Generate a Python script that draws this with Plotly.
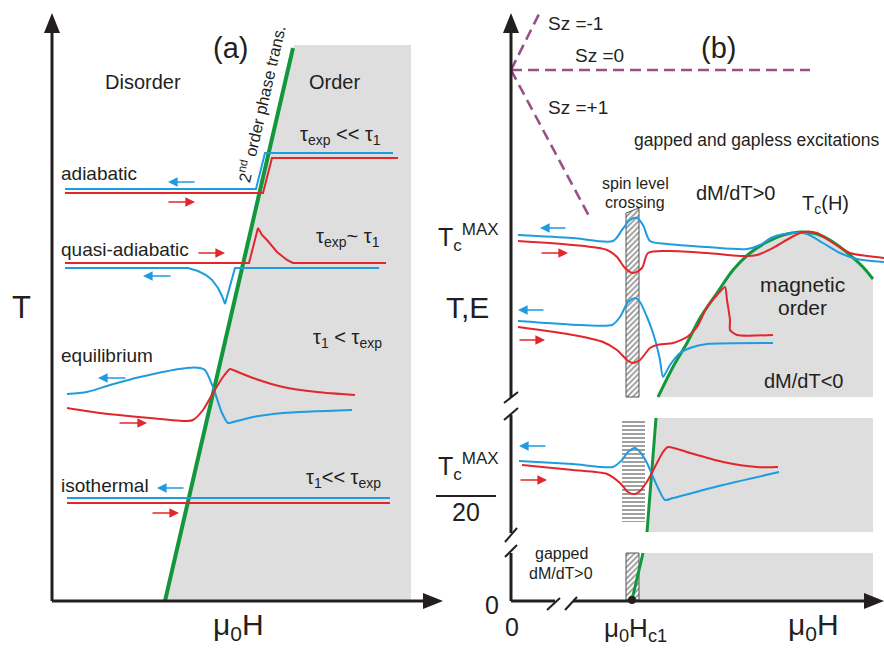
import plotly.graph_objects as go

# ---------------------------------------------------------------
# Panel (a): generic H-T diagram with a 2nd order phase boundary.
# Coordinates: H (field, arbitrary units) and T (arbitrary units).
# ---------------------------------------------------------------
A_BOUNDARY_H = [113, 241]
A_BOUNDARY_T = [0, 553]
A_ORDER_H = [113, 242, 359, 359]
A_ORDER_T = [0, 556, 556, 0]

ADIA_BLUE_H = [13, 204, 213, 341]
ADIA_BLUE_T = [412, 412, 448, 448]
ADIA_RED_H = [13, 211, 220, 346]
ADIA_RED_T = [408, 408, 443, 443]

QADIA_RED_H = [13, 197, 206, 210, 215, 220, 225, 230, 235, 241, 334]
QADIA_RED_T = [338, 338, 373, 366, 361, 355, 349, 345, 341, 338, 338]
QADIA_BLUE_H = [13, 136, 146, 154, 160, 166, 170, 173, 183, 327]
QADIA_BLUE_T = [333, 333, 330, 326, 321, 313, 305, 297, 333, 333]

EQ_BLUE_H = [15, 35, 58, 88, 135, 148, 153, 161, 170, 176, 181, 201, 231, 300]
EQ_BLUE_T = [207, 209, 216, 224, 233, 233, 231, 214, 188, 178, 179, 184, 188, 191]
EQ_RED_H = [15, 48, 98, 135, 141, 151, 161, 171, 178, 181, 201, 231, 265, 303]
EQ_RED_T = [193, 188, 183, 180, 181, 191, 208, 224, 232, 231, 223, 214, 209, 206]

ISO_BLUE_H = [15, 338]
ISO_BLUE_T = [103, 103]
ISO_RED_H = [15, 338]
ISO_RED_T = [98, 98]

# sweep-direction arrows: (tail H, head H, T, colour key)
A_ARROWS = [
    (144, 116, 419, "blue"), (115, 143, 399, "red"),
    (145, 173, 348, "red"), (120, 91, 325, "blue"),
    (75, 46, 223, "blue"), (66, 95, 178, "red"),
    (133, 105, 113, "blue"), (99, 127, 88, "red"),
]

# ---------------------------------------------------------------
# Panel (b): spin-gap system, broken T axis.
# ---------------------------------------------------------------
B_TC_H = [147, 162, 176, 189, 206, 222, 239, 256, 272, 289, 306, 322, 339, 352, 362]
B_TC_T = [204, 234, 258, 283, 308, 331, 348, 359, 366, 369, 367, 359, 346, 334, 322]
B_ORDER_RIGHT_H = 362
B_ORDER_FLOOR_T = 204

B_MID_BOUNDARY_H = [136, 145]
B_MID_BOUNDARY_T = [69, 183]
B_LOW_BOUNDARY_H = [121, 132]
B_LOW_BOUNDARY_T = [1, 48]

HATCH_TOP_H = [115, 128, 128, 115]
HATCH_TOP_T = [388, 393, 204, 204]
HATCH_MID_H = [111, 134, 134, 111]
HATCH_MID_T = [181, 181, 79, 79]
HATCH_LOW_H = [115, 128, 128, 115]
HATCH_LOW_T = [48, 48, 1, 1]

SZ_M1_H, SZ_M1_T = [0, 29], [531, 589]
SZ_0_H, SZ_0_T = [0, 299], [531, 531]
SZ_P1_H, SZ_P1_T = [0, 79], [531, 383]

TOP_BLUE_H = [7, 62, 102, 111, 119, 126, 132, 139, 156, 196, 236, 249, 262, 282, 296, 312, 329, 346, 373]
TOP_BLUE_T = [366, 363, 360, 371, 381, 383, 376, 360, 357, 354, 352, 356, 364, 368, 367, 358, 348, 342, 339]
TOP_RED_H = [7, 62, 96, 106, 114, 122, 131, 137, 156, 196, 229, 246, 262, 279, 292, 306, 322, 339, 356, 373]
TOP_RED_T = [360, 356, 351, 344, 333, 328, 333, 348, 350, 348, 345, 346, 353, 363, 369, 368, 358, 348, 345, 343]

MID_BLUE_H = [7, 69, 101, 109, 117, 124, 129, 136, 141, 145, 149, 152, 159, 169, 179, 196, 262]
MID_BLUE_T = [280, 276, 276, 284, 299, 303, 299, 284, 271, 258, 241, 224, 236, 248, 253, 257, 258]
MID_RED_H = [7, 62, 92, 106, 116, 122, 129, 139, 146, 162, 176, 186, 196, 206, 214, 216, 219, 219, 226, 262]
MID_RED_T = [274, 266, 259, 251, 241, 238, 241, 253, 256, 258, 264, 274, 294, 306, 314, 301, 281, 271, 266, 266]

LOW_BLUE_H = [8, 62, 102, 111, 117, 124, 129, 136, 142, 149, 154, 162, 212, 268]
LOW_BLUE_T = [140, 137, 134, 141, 149, 153, 149, 138, 124, 109, 101, 103, 116, 129]
LOW_RED_H = [11, 62, 96, 109, 117, 124, 129, 137, 146, 152, 157, 179, 212, 246, 267]
LOW_RED_T = [136, 131, 127, 118, 109, 107, 110, 121, 138, 149, 154, 148, 139, 134, 134]

B_ARROWS = [
    (56, 29, 373, "blue"), (29, 57, 348, "red"),
    (34, 7, 291, "blue"), (7, 34, 261, "red"),
    (36, 8, 155, "blue"), (8, 36, 121, "red"),
]

# axes: T-axis segments (broken) and H-axis segments
A_T_TIP, A_H_TIP = 588, 391
B_T_SEGMENTS = [(204, 588), (68, 186), (0, 48)]
B_H_SEGMENTS = [(0, 44), (62, 373)]
B_BREAKS = [((-7, 198), (7, 209)), ((-7, 181), (7, 193)),
            ((-6, 59), (6, 73)), ((-6, 44), (6, 56)),
            ((36, -9), (49, 3)), ((54, -9), (66, 4))]
HC1 = (121, 1)

FONT = "Liberation Sans, Arial, sans-serif"
INK = "#231f20"
COLORS = {"blue": "#1f9be0", "red": "#e2262b"}
GREEN = "#12973c"
GRAY = "#dedede"
PURPLE = "#9a4f86"

fig = go.Figure()


def axes(panel):
    return ("x", "y") if panel == "a" else ("x2", "y2")


def curve(panel, h, t, color, width=2.0, shape="linear", dash=None, smoothing=0.8):
    xa, ya = axes(panel)
    ln = dict(color=color, width=width, shape=shape, dash=dash)
    if shape == "spline":
        ln["smoothing"] = smoothing
    fig.add_trace(go.Scatter(x=h, y=t, mode="lines", xaxis=xa, yaxis=ya, line=ln,
                             hoverinfo="skip", showlegend=False))


def region(panel, h, t, color):
    xa, ya = axes(panel)
    fig.add_trace(go.Scatter(x=h, y=t, mode="lines", fill="toself", fillcolor=color,
                             line=dict(width=0, color=color), xaxis=xa, yaxis=ya,
                             hoverinfo="skip", showlegend=False))


def hatch(panel, h, t, shape, border=True):
    xa, ya = axes(panel)
    fig.add_trace(go.Scatter(x=h + h[:1], y=t + t[:1], mode="lines", fill="toself",
                             fillcolor="white",
                             fillpattern=dict(shape=shape, fgcolor="#2a2a2a", bgcolor="white",
                                              size=4, solidity=0.45),
                             line=dict(width=1 if border else 0, color="#555555"),
                             xaxis=xa, yaxis=ya, hoverinfo="skip", showlegend=False))


def label(panel, h, t, s, size, anchor="center", angle=0):
    xa, ya = axes(panel)
    fig.add_annotation(x=h, y=t, xref=xa, yref=ya, text=s, showarrow=False,
                       font=dict(family=FONT, size=size, color=INK),
                       xanchor=anchor, yanchor="middle", textangle=angle)


def sweep(panel, tail, head, t, key):
    xa, ya = axes(panel)
    fig.add_annotation(x=head, y=t, ax=tail, ay=t, xref=xa, yref=ya, axref=xa, ayref=ya,
                       text="", showarrow=True, arrowhead=2, arrowsize=1.2,
                       arrowwidth=1.6, arrowcolor=COLORS[key], standoff=0)


def arrow_head(panel, tip, direction, length=20, half=8):
    x0, y0 = tip
    if direction == "up":
        xs, ys = [x0 - half, x0, x0 + half, x0 - half], [y0 - length, y0, y0 - length, y0 - length]
    else:
        xs, ys = [x0 - length, x0, x0 - length, x0 - length], [y0 - half, y0, y0 + half, y0 - half]
    region(panel, xs, ys, INK)


SMALL = "<span style='font-size:17px'>{}</span>"
TC_MAX = "T<sub>" + SMALL.format("c") + "</sub><sup>" + SMALL.format("MAX") + "</sup>"

# ---------------- panel (a) ----------------
region("a", A_ORDER_H, A_ORDER_T, GRAY)
curve("a", A_BOUNDARY_H, A_BOUNDARY_T, GREEN, width=4)

curve("a", ADIA_BLUE_H, ADIA_BLUE_T, COLORS["blue"])
curve("a", ADIA_RED_H, ADIA_RED_T, COLORS["red"])
curve("a", QADIA_RED_H, QADIA_RED_T, COLORS["red"])
curve("a", QADIA_BLUE_H, QADIA_BLUE_T, COLORS["blue"])
curve("a", EQ_BLUE_H, EQ_BLUE_T, COLORS["blue"], shape="spline", smoothing=0.7)
curve("a", EQ_RED_H, EQ_RED_T, COLORS["red"], shape="spline", smoothing=0.7)
curve("a", ISO_BLUE_H, ISO_BLUE_T, COLORS["blue"])
curve("a", ISO_RED_H, ISO_RED_T, COLORS["red"])
for tail, head, t, key in A_ARROWS:
    sweep("a", tail, head, t, key)

curve("a", [0, 0], [0, A_T_TIP - 18], INK, width=3)
curve("a", [0, A_H_TIP - 18], [0, 0], INK, width=3)
arrow_head("a", (0, A_T_TIP), "up")
arrow_head("a", (A_H_TIP, 0), "right")

label("a", 178, 553, "(a)", 29)
label("a", 91, 519, "Disorder", 20)
label("a", 282, 519, "Order", 20)
label("a", 209, 497, "2<sup>nd</sup> order phase trans.", 16.5, angle=-77)
label("a", 7, 428, "adiabatic", 19, anchor="left")
label("a", 7, 352, "quasi-adiabatic", 19, anchor="left")
label("a", 7, 246, "equilibrium", 19, anchor="left")
label("a", 7, 116, "isothermal", 19, anchor="left")
label("a", 288, 466, "τ<sub>exp</sub> << τ<sub>1</sub>", 20)
label("a", 296, 364, "τ<sub>exp</sub>~ τ<sub>1</sub>", 20)
label("a", 295, 263, "τ<sub>1</sub> < τ<sub>exp</sub>", 20)
label("a", 291, 123, "τ<sub>1</sub><< τ<sub>exp</sub>", 20)
label("a", -31, 294, "T", 31)
label("a", 186, -25, "μ<sub>0</sub>H", 30)

# ---------------- panel (b) ----------------
region("b", B_TC_H + [B_ORDER_RIGHT_H, B_TC_H[0]],
       B_TC_T + [B_ORDER_FLOOR_T, B_ORDER_FLOOR_T], GRAY)
region("b", B_MID_BOUNDARY_H + [B_ORDER_RIGHT_H, B_ORDER_RIGHT_H],
       B_MID_BOUNDARY_T + [B_MID_BOUNDARY_T[1], B_MID_BOUNDARY_T[0]], GRAY)
region("b", B_LOW_BOUNDARY_H + [B_ORDER_RIGHT_H, B_ORDER_RIGHT_H],
       B_LOW_BOUNDARY_T + [B_LOW_BOUNDARY_T[1], B_LOW_BOUNDARY_T[0]], GRAY)

hatch("b", HATCH_TOP_H, HATCH_TOP_T, "/")
hatch("b", HATCH_MID_H, HATCH_MID_T, "-", border=False)
hatch("b", HATCH_LOW_H, HATCH_LOW_T, "/")

curve("b", B_TC_H, B_TC_T, GREEN, width=3, shape="spline")
curve("b", B_MID_BOUNDARY_H, B_MID_BOUNDARY_T, GREEN, width=3)
curve("b", B_LOW_BOUNDARY_H, B_LOW_BOUNDARY_T, GREEN, width=3)

for h, t in [(SZ_M1_H, SZ_M1_T), (SZ_0_H, SZ_0_T), (SZ_P1_H, SZ_P1_T)]:
    curve("b", h, t, PURPLE, width=2.6, dash="11px,6px")

curve("b", TOP_BLUE_H, TOP_BLUE_T, COLORS["blue"], shape="spline")
curve("b", TOP_RED_H, TOP_RED_T, COLORS["red"], shape="spline")
curve("b", MID_BLUE_H, MID_BLUE_T, COLORS["blue"], shape="spline", smoothing=0.6)
curve("b", MID_RED_H, MID_RED_T, COLORS["red"], shape="spline", smoothing=0.6)
curve("b", LOW_BLUE_H, LOW_BLUE_T, COLORS["blue"], shape="spline", smoothing=0.7)
curve("b", LOW_RED_H, LOW_RED_T, COLORS["red"], shape="spline", smoothing=0.7)
for tail, head, t, key in B_ARROWS:
    sweep("b", tail, head, t, key)

for lo, hi in B_T_SEGMENTS:
    curve("b", [0, 0], [lo, hi - 18 if hi == B_T_SEGMENTS[0][1] else hi], INK, width=3)
for lo, hi in B_H_SEGMENTS:
    curve("b", [lo, hi - 18 if hi == B_H_SEGMENTS[-1][1] else hi], [0, 0], INK, width=3)
arrow_head("b", (0, B_T_SEGMENTS[0][1]), "up")
arrow_head("b", (B_H_SEGMENTS[-1][1], 0), "right")
for (h0, t0), (h1, t1) in B_BREAKS:
    curve("b", [h0, h1], [t0, t1], INK, width=2)
fig.add_trace(go.Scatter(x=[HC1[0]], y=[HC1[1]], mode="markers", xaxis="x2", yaxis="y2",
                         marker=dict(color=INK, size=8), hoverinfo="skip", showlegend=False))

label("b", 207, 553, "(b)", 29)
label("b", 35, 578, "Sz =-1", 19, anchor="left")
label("b", 62, 546, "Sz =0", 19, anchor="left")
label("b", 35, 494, "Sz =+1", 19, anchor="left")
label("b", 121, 461, "gapped and gapless excitations", 17.5, anchor="left")
label("b", 124, 418, "spin level", 16)
label("b", 124, 399, "crossing", 16)
label("b", 224, 408, "dM/dT>0", 20)
label("b", 314, 397, "T<sub>c</sub>(H)", 20)
label("b", 291, 317, "magnetic", 21)
label("b", 291, 294, "order", 21)
label("b", 292, 220, "dM/dT<0", 20)
label("b", -75, 364, TC_MAX, 25, anchor="left")
label("b", -44, 294, "T,E", 30)
label("b", -75, 135, TC_MAX, 25, anchor="left")
curve("b", [-75, -15], [105, 105], INK, width=2)
label("b", -45, 89, "20", 25)
label("b", -19, -4, "0", 25)
label("b", 1, -26, "0", 25)
label("b", 124, -28, "μ<sub>0</sub>H<sub>c1</sub>", 26)
label("b", 302, -25, "μ<sub>0</sub>H", 30)
label("b", 50, 48, "gapped", 16)
label("b", 50, 28, "dM/dT>0", 16)

fig.update_layout(
    width=884, height=650, margin=dict(l=0, r=0, t=0, b=0),
    paper_bgcolor="white", plot_bgcolor="white",
    xaxis=dict(range=[-52, 832], visible=False, domain=[0, 1], fixedrange=True),
    yaxis=dict(range=[-49, 601], visible=False, domain=[0, 1], fixedrange=True),
    xaxis2=dict(range=[-511, 373], visible=False, overlaying="x", anchor="y2", fixedrange=True),
    yaxis2=dict(range=[-49, 601], visible=False, overlaying="y", anchor="x2", fixedrange=True),
)

fig.write_html("out.html")
